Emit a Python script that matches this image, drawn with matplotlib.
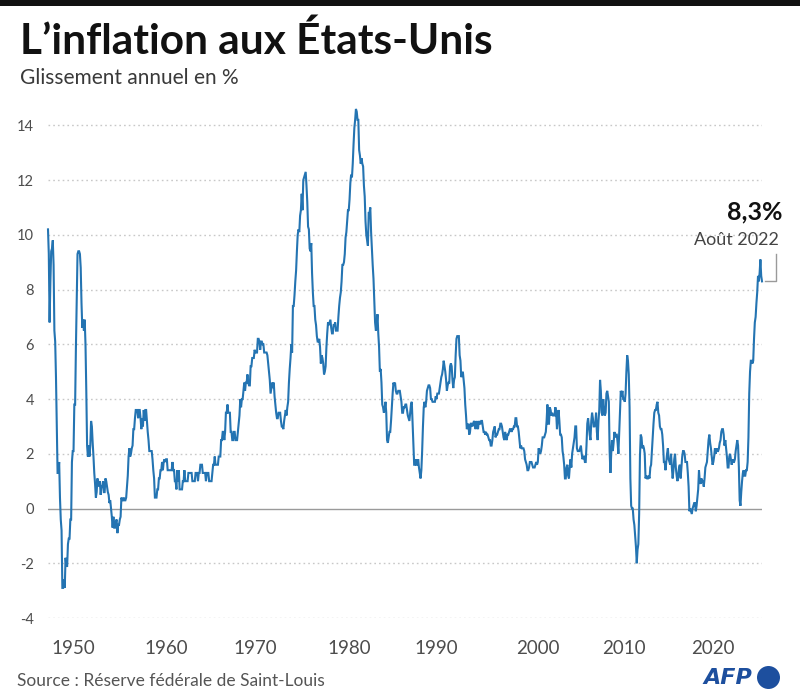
import numpy as np
import matplotlib
matplotlib.use("Agg")
import matplotlib.pyplot as plt
from matplotlib.patches import Rectangle, Circle
from matplotlib.transforms import ScaledTranslation

plt.rcParams['font.family'] = ['Lato', 'DejaVu Sans']

# Monthly year-over-year CPI change (%), Jan 1948 - Aug 2022
start_year = 1948
cpi_1948_1957 = [
    10.2, 9.3, 6.8, 8.3, 9.4, 9.5, 9.8, 8.9, 6.5, 6.1, 4.8, 3.0,
    1.3, 1.3, 1.7, 0.4, -0.4, -0.8, -2.9, -2.9, -2.6, -2.9, -1.8, -2.1,
    -2.1, -1.3, -1.1, -1.1, -0.4, -0.4, 1.7, 2.1, 2.1, 3.8, 3.8, 5.9,
    7.5, 9.3, 9.4, 9.4, 9.3, 8.8, 7.5, 6.6, 6.9, 6.5, 6.9, 6.0,
    4.3, 2.3, 1.9, 2.3, 1.9, 2.3, 3.2, 3.0, 2.4, 1.9, 1.3, 0.9,
    0.4, 0.6, 1.1, 0.8, 0.9, 1.0, 0.5, 0.8, 0.8, 1.0, 0.6, 0.6,
    1.1, 1.0, 0.8, 0.6, 0.5, 0.2, 0.3, 0.0, -0.3, -0.7, -0.3, -0.7,
    -0.7, -0.5, -0.4, -0.9, -0.6, -0.6, -0.4, -0.3, 0.4, 0.3, 0.3, 0.4,
    0.3, 0.3, 0.4, 0.8, 1.2, 1.9, 2.2, 1.9, 2.0, 2.2, 2.3, 2.9,
    2.9, 3.3, 3.6, 3.6, 3.6, 3.3, 3.6, 3.6, 3.3, 2.9, 3.3, 3.0,
]
cpi_1958_1967 = [
    3.6, 3.2, 3.6, 3.6, 3.2, 2.8, 2.5, 2.1, 2.1, 2.1, 2.1, 1.8,
    1.4, 1.1, 0.4, 0.4, 0.4, 0.7, 0.7, 1.1, 1.1, 1.4, 1.4, 1.7,
    1.4, 1.7, 1.8, 1.7, 1.8, 1.8, 1.4, 1.4, 1.4, 1.4, 1.4, 1.4,
    1.7, 1.4, 1.4, 1.0, 1.0, 0.7, 1.4, 1.0, 1.4, 0.7, 0.7, 0.7,
    0.7, 1.0, 1.0, 1.4, 1.0, 1.0, 1.0, 1.0, 1.3, 1.3, 1.3, 1.3,
    1.3, 1.0, 1.0, 1.0, 1.0, 1.3, 1.3, 1.3, 1.0, 1.3, 1.3, 1.6,
    1.6, 1.6, 1.3, 1.3, 1.3, 1.3, 1.0, 1.3, 1.3, 1.3, 1.0, 1.0,
    1.0, 1.0, 1.3, 1.6, 1.6, 1.9, 1.6, 1.6, 1.6, 1.6, 1.9, 1.9,
    1.9, 2.5, 2.5, 2.8, 2.8, 2.5, 2.8, 3.5, 3.5, 3.8, 3.5, 3.5,
    3.5, 2.8, 2.8, 2.5, 2.5, 2.8, 2.8, 2.5, 2.5, 2.5, 2.8, 3.1,
]
cpi_1968_1977 = [
    3.4, 4.0, 3.7, 4.0, 4.0, 4.3, 4.6, 4.3, 4.6, 4.6, 4.9, 4.6,
    4.5, 4.5, 5.2, 5.2, 5.5, 5.5, 5.5, 5.8, 5.7, 5.7, 5.7, 6.2,
    6.2, 6.1, 5.8, 6.1, 6.1, 6.0, 6.0, 5.7, 5.7, 5.7, 5.7, 5.6,
    5.3, 5.0, 4.7, 4.2, 4.4, 4.6, 4.4, 4.6, 4.1, 3.8, 3.5, 3.3,
    3.3, 3.5, 3.5, 3.5, 3.2, 3.0, 3.0, 2.9, 3.2, 3.4, 3.6, 3.4,
    3.7, 3.9, 4.6, 5.1, 5.5, 6.0, 5.7, 7.4, 7.4, 7.8, 8.3, 8.7,
    9.4, 10.0, 10.2, 10.1, 10.7, 10.9, 11.5, 10.9, 12.0, 12.1, 12.2, 12.3,
    11.8, 11.2, 10.3, 10.2, 9.5, 9.4, 9.7, 8.6, 7.9, 7.4, 7.4, 6.9,
    6.7, 6.3, 6.1, 6.1, 6.2, 5.9, 5.3, 5.6, 5.5, 5.3, 4.9, 5.0,
    5.2, 5.9, 6.4, 6.8, 6.7, 6.8, 6.9, 6.6, 6.4, 6.4, 6.7, 6.7,
]
cpi_1978_1987 = [
    6.8, 6.5, 6.5, 6.5, 7.0, 7.4, 7.7, 7.9, 8.3, 8.9, 8.9, 9.0,
    9.3, 9.9, 10.1, 10.5, 10.9, 10.9, 11.3, 11.9, 12.2, 12.1, 12.6, 13.3,
    13.9, 14.2, 14.6, 14.5, 14.2, 14.2, 13.1, 12.9, 12.6, 12.8, 12.6, 12.5,
    11.8, 11.4, 10.5, 10.0, 9.8, 9.6, 10.8, 10.8, 11.0, 10.1, 9.5, 8.9,
    8.4, 7.6, 6.8, 6.5, 6.7, 7.1, 6.4, 5.9, 5.0, 5.1, 4.6, 3.8,
    3.7, 3.5, 3.6, 3.9, 3.5, 2.5, 2.4, 2.6, 2.8, 2.8, 3.2, 3.7,
    4.2, 4.6, 4.5, 4.6, 4.3, 4.2, 4.2, 4.3, 4.3, 4.3, 4.1, 3.9,
    3.5, 3.5, 3.7, 3.7, 3.8, 3.8, 3.6, 3.4, 3.3, 3.2, 3.5, 3.8,
    3.9, 3.1, 2.2, 1.6, 1.6, 1.8, 1.6, 1.6, 1.8, 1.5, 1.3, 1.1,
    1.4, 2.1, 3.0, 3.7, 3.9, 3.7, 3.9, 4.3, 4.4, 4.5, 4.5, 4.4,
]
cpi_1988_1997 = [
    4.0, 4.0, 3.9, 3.9, 3.9, 3.9, 4.1, 4.0, 4.2, 4.2, 4.2, 4.4,
    4.6, 4.8, 4.9, 5.1, 5.4, 5.2, 5.0, 4.7, 4.3, 4.5, 4.6, 4.6,
    5.2, 5.3, 5.2, 4.7, 4.4, 4.7, 4.8, 5.6, 6.2, 6.3, 6.3, 6.3,
    5.6, 5.4, 4.8, 4.9, 5.0, 4.7, 4.4, 3.8, 3.4, 2.9, 3.0, 3.1,
    2.7, 2.8, 3.1, 3.1, 3.0, 3.1, 3.2, 3.1, 2.9, 3.2, 3.0, 2.9,
    3.2, 3.1, 3.1, 3.2, 3.2, 3.0, 2.8, 2.8, 2.7, 2.8, 2.7, 2.7,
    2.6, 2.5, 2.5, 2.3, 2.3, 2.5, 2.8, 2.9, 3.0, 2.6, 2.7, 2.7,
    2.8, 2.9, 2.9, 3.1, 3.1, 3.0, 2.8, 2.6, 2.5, 2.8, 2.6, 2.5,
    2.7, 2.7, 2.8, 2.9, 2.9, 2.8, 2.9, 2.9, 3.0, 3.0, 3.3, 3.3,
    3.0, 3.0, 2.8, 2.5, 2.2, 2.3, 2.2, 2.2, 2.2, 2.1, 1.8, 1.7,
]
cpi_1998_2007 = [
    1.6, 1.4, 1.4, 1.5, 1.7, 1.7, 1.7, 1.6, 1.5, 1.5, 1.5, 1.6,
    1.7, 1.6, 1.7, 2.2, 2.1, 2.0, 2.1, 2.3, 2.6, 2.6, 2.6, 2.7,
    2.8, 3.2, 3.8, 3.1, 3.1, 3.7, 3.6, 3.4, 3.5, 3.4, 3.4, 3.4,
    3.7, 3.5, 2.9, 3.3, 3.6, 3.2, 2.7, 2.7, 2.6, 2.1, 1.9, 1.6,
    1.1, 1.1, 1.5, 1.6, 1.2, 1.1, 1.5, 1.8, 1.5, 2.0, 2.2, 2.4,
    2.6, 3.0, 3.0, 2.2, 2.1, 2.1, 2.1, 2.2, 2.3, 2.0, 1.8, 1.9,
    1.9, 1.7, 1.7, 2.3, 3.1, 3.3, 3.0, 2.7, 2.5, 3.2, 3.5, 3.3,
    3.0, 3.0, 3.1, 3.5, 2.8, 2.5, 3.2, 3.6, 4.7, 4.3, 3.5, 3.4,
    4.0, 3.6, 3.4, 3.5, 4.2, 4.3, 4.1, 3.9, 2.1, 1.3, 2.0, 2.5,
    2.1, 2.4, 2.8, 2.6, 2.7, 2.7, 2.4, 2.0, 2.8, 3.5, 4.3, 4.1,
]
cpi_2008_2017 = [
    4.3, 4.0, 4.0, 3.9, 4.2, 5.0, 5.6, 5.4, 4.9, 3.7, 1.1, 0.1,
    0.0, 0.0, -0.4, -0.6, -1.0, -1.4, -2.0, -1.5, -1.3, -0.2, 1.9, 2.7,
    2.6, 2.2, 2.3, 2.2, 2.0, 1.1, 1.2, 1.1, 1.1, 1.2, 1.1, 1.5,
    1.6, 2.1, 2.6, 3.1, 3.5, 3.6, 3.6, 3.8, 3.9, 3.5, 3.4, 3.0,
    2.9, 2.9, 2.7, 2.3, 1.7, 1.7, 1.4, 1.7, 2.0, 2.2, 1.8, 1.7,
    1.6, 2.0, 1.5, 1.1, 1.4, 1.8, 2.0, 1.5, 1.2, 1.0, 1.2, 1.5,
    1.6, 1.1, 1.5, 1.9, 2.1, 2.1, 2.0, 1.7, 1.7, 1.7, 1.3, 0.8,
    -0.1, 0.0, -0.1, -0.2, 0.0, 0.1, 0.2, 0.2, -0.1, 0.1, 0.4, 0.7,
    1.4, 1.0, 0.9, 1.1, 1.0, 1.0, 0.8, 1.1, 1.5, 1.6, 1.7, 2.1,
    2.5, 2.7, 2.4, 2.2, 1.9, 1.6, 1.7, 1.9, 2.2, 2.0, 2.2, 2.1,
]
cpi_2018_2022 = [
    2.1, 2.2, 2.4, 2.5, 2.8, 2.9, 2.9, 2.7, 2.3, 2.5, 2.2, 1.9,
    1.5, 1.5, 1.9, 2.0, 1.8, 1.6, 1.8, 1.7, 1.7, 1.8, 2.1, 2.3,
    2.5, 2.3, 1.5, 0.3, 0.1, 0.6, 1.0, 1.3, 1.4, 1.2, 1.2, 1.4,
    1.4, 1.7, 2.6, 4.2, 5.0, 5.4, 5.4, 5.3, 5.4, 6.2, 6.8, 7.0,
    7.5, 7.9, 8.5, 8.3, 8.6, 9.1, 8.5, 8.3,
]

y_ticks = [-4, -2, 0, 2, 4, 6, 8, 10, 12, 14]
x_tick_labels = ["1950", "1960", "1970", "1980", "1990", "2000", "2010", "2020"]
x_tick_pos = [1950.6, 1960.3, 1969.6, 1979.5, 1988.6, 1999.2, 2008.2, 2017.5]

last_value_label = "8,3%"
last_date_label = "Août 2022"

values = np.array(cpi_1948_1957 + cpi_1958_1967 + cpi_1968_1977 + cpi_1978_1987
                  + cpi_1988_1997 + cpi_1998_2007 + cpi_2008_2017 + cpi_2018_2022)
dates = start_year + np.arange(len(values)) / 12.0

W, H = 800, 698
fig = plt.figure(figsize=(W / 100, H / 100), dpi=100)
fig.patch.set_facecolor("white")

ax = fig.add_axes([48 / W, 1 - 618 / H, (762 - 48) / W, (618 - 98) / H])
ax.set_xlim(dates[0], dates[-1])
ax.set_ylim(-4, 15)

for yt in y_ticks:
    if yt == 0:
        ax.axhline(0, color="#9a9a9a", lw=1.0, zorder=1)
    else:
        ax.axhline(yt, color="#c8c8c8", lw=1.0, ls=(0, (1.2, 2.2)), zorder=1)

line_color = "#2474b2"
ax.plot(dates, values, color=line_color, lw=1.5, zorder=3, clip_on=False,
        solid_joinstyle="miter")

for s in ax.spines.values():
    s.set_visible(False)
ax.set_yticks(y_ticks)
ax.set_yticklabels([str(t) for t in y_ticks])
ax.set_xticks(x_tick_pos)
ax.set_xticklabels(x_tick_labels)
ax.tick_params(axis="y", length=0, pad=10, labelsize=10.5, labelcolor="#4d4d4d")
ax.tick_params(axis="x", length=0, pad=16, labelsize=13.5, labelcolor="#4d4d4d")

# Leader line and annotation at last value
trans = fig.dpi_scale_trans + ScaledTranslation(dates[-1], values[-1], ax.transData)
ax.plot([0.03, 0.14, 0.14], [0.0, 0.0, 0.27], color="#9a9a9a", lw=1.0,
        transform=trans, clip_on=False, zorder=2)
ax.text(0.20, 0.69, last_value_label, transform=trans, ha="right", va="center",
        fontsize=18, fontweight="bold", color="#111111")
ax.text(0.17, 0.41, last_date_label, transform=trans, ha="right", va="center",
        fontsize=13, color="#444444")

# Header
fig.patches.append(Rectangle((0, 1 - 6 / H), 1, 6 / H, transform=fig.transFigure,
                             facecolor="#111111", edgecolor="none"))
fig.text(20 / W, 1 - 41 / H, "L\u2019inflation aux \u00c9tats-Unis", ha="left", va="center",
         fontsize=30.5, fontweight="bold", color="#111111")
fig.text(20 / W, 1 - 78 / H, "Glissement annuel en %", ha="left", va="center",
         fontsize=15, color="#3a3a3a")

# Footer
fig.text(17 / W, 1 - 681 / H, "Source : R\u00e9serve f\u00e9d\u00e9rale de Saint-Louis", ha="left",
         va="center", fontsize=12.5, color="#555555")
afp_blue = "#1d4f9e"
fig.text(752 / W, 1 - 678.5 / H, "AFP", ha="right", va="center", fontsize=16,
         fontweight="bold", fontstyle="italic", color=afp_blue,
         family=["DejaVu Sans"])
fig.patches.append(Circle((7.685, (H - 677.5) / 100), 0.115, transform=fig.dpi_scale_trans,
                          facecolor=afp_blue, edgecolor="none"))

fig.savefig("out.png", dpi=100, facecolor="white")
